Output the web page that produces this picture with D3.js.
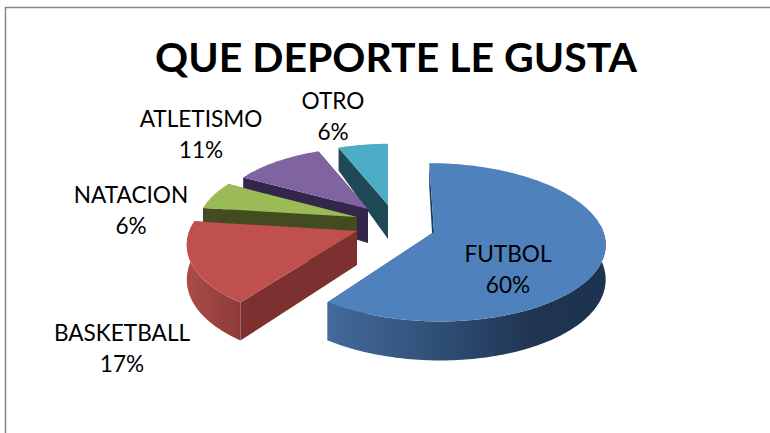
<!DOCTYPE html>
<html>
<head>
<meta charset="utf-8">
<script src="https://cdnjs.cloudflare.com/ajax/libs/d3/7.8.5/d3.min.js"></script>
<style>
  html,body{margin:0;padding:0;background:#fff;overflow:hidden}
  text{font-family:Lato,"Open Sans",sans-serif;fill:#000}
</style>
</head>
<body>
<script>
// data
const titulo="QUE DEPORTE LE GUSTA";
const categorias=["FUTBOL","BASKETBALL","NATACION","ATLETISMO","OTRO"];
const valores=[60,17,6,11,6];

// layout of each slice, same order as categorias
const puntas=[[434,232],[357,231],[357,217],[368,209],[388,205]]; // slice tip after exploding
const escala=[.985,1,.92,.88,.875];
const anchoX=[1,.975,1,1,1];
const sesgo=[.07,-.09,-.05,0,0];
const etiquetas=[[508,262],[122,341],[131,203],[201,127],[333,109]];
const colorTapa=["#4f81bd","#c0504d","#9bbb59","#8064a2","#4bacc6"];
const colorCara=["#1f3a5c","#7c3130","#424c20","#33264a","#1f4a55"];

const W=770,H=433;
const RX=172,RY=79,P=.13;

const svg=d3.select("body").append("svg").attr("width",W).attr("height",H);

// frame, open at right and bottom
svg.append("path")
  .attr("d",d3.line()([[5.5,H],[5.5,7.5],[W,7.5]]))
  .attr("fill","none").attr("stroke","#868686").attr("stroke-width",1.5);

const pie=d3.pie().sort(null).startAngle(0).endAngle(2*Math.PI);
const arcos=pie(valores);

// circle angle -> screen, with a little perspective
function proyectar(i,a,r=1){
  const k=1/(1+P*Math.cos(a));
  const y=-RY*Math.cos(a)*k*r*escala[i];
  const x=RX*Math.sin(a)*k*r*escala[i]*anchoX[i]+sesgo[i]*y;
  return [puntas[i][0]+x,puntas[i][1]+y];
}
// wall height shrinks towards the back
function alto(a,r=1){
  const c=Math.cos(a)*r;
  return c>0 ? 34-12*c : 34-5*c;
}
function muestras(a0,a1){
  const n=Math.max(2,Math.ceil((a1-a0)/.02));
  return d3.range(n+1).map(j=>a0+(a1-a0)*j/n);
}
const linea=d3.line();

const defs=svg.append("defs");
function degradado(id,x0,x1,paradas){
  const g=defs.append("linearGradient").attr("id",id)
    .attr("gradientUnits","userSpaceOnUse")
    .attr("x1",x0).attr("x2",x1).attr("y1",0).attr("y2",0);
  paradas.forEach(p=>g.append("stop").attr("offset",p[0]).attr("stop-color",p[1]));
}
degradado("lado0",330,606,[[0,"#44699a"],[.4,"#2f4e75"],[.75,"#1f3450"],[1,"#1e3350"]]);
degradado("lado1",187,245,[[0,"#ab4b48"],[1,"#8a3a38"]]);

// back to front: OTRO first, FUTBOL last
d3.range(arcos.length).reverse().forEach(i=>{
  const d=arcos[i];
  const g=svg.append("g").attr("data-cat",categorias[i]);
  const tip=proyectar(i,0,0);
  const tipBajo=[tip[0],tip[1]+alto(0,0)];

  // cut faces
  [d.endAngle,d.startAngle].forEach(a=>{
    const p=proyectar(i,a);
    g.append("path")
      .attr("d",linea([tip,p,[p[0],p[1]+alto(a)],tipBajo])+"Z")
      .attr("fill",colorCara[i]);
  });

  // outer wall, only the part turned to the viewer
  const a0=Math.max(d.startAngle,Math.PI*.47),a1=Math.min(d.endAngle,Math.PI*1.52);
  if(a1>a0){
    const sup=muestras(a0,a1).map(a=>proyectar(i,a));
    const inf=muestras(a0,a1).reverse().map(a=>{
      const p=proyectar(i,a);
      return [p[0],p[1]+alto(a)];
    });
    g.append("path").attr("d",linea(sup.concat(inf))+"Z").attr("fill",`url(#lado${i})`);
  }

  // top
  const borde=muestras(d.startAngle,d.endAngle).map(a=>proyectar(i,a));
  g.append("path").attr("d",linea([tip].concat(borde))+"Z").attr("fill",colorTapa[i]);
});

// title
svg.append("text").attr("x",396).attr("y",72)
  .attr("text-anchor","middle").attr("font-size",41).attr("font-weight",700)
  .text(titulo);

// labels
categorias.forEach((c,i)=>{
  const t=svg.append("text").attr("text-anchor","middle").attr("font-size",22.6);
  t.append("tspan").attr("x",etiquetas[i][0]).attr("y",etiquetas[i][1]).text(c);
  t.append("tspan").attr("x",etiquetas[i][0]).attr("y",etiquetas[i][1]+31).text(valores[i]+"%");
});
</script>
</body>
</html>
